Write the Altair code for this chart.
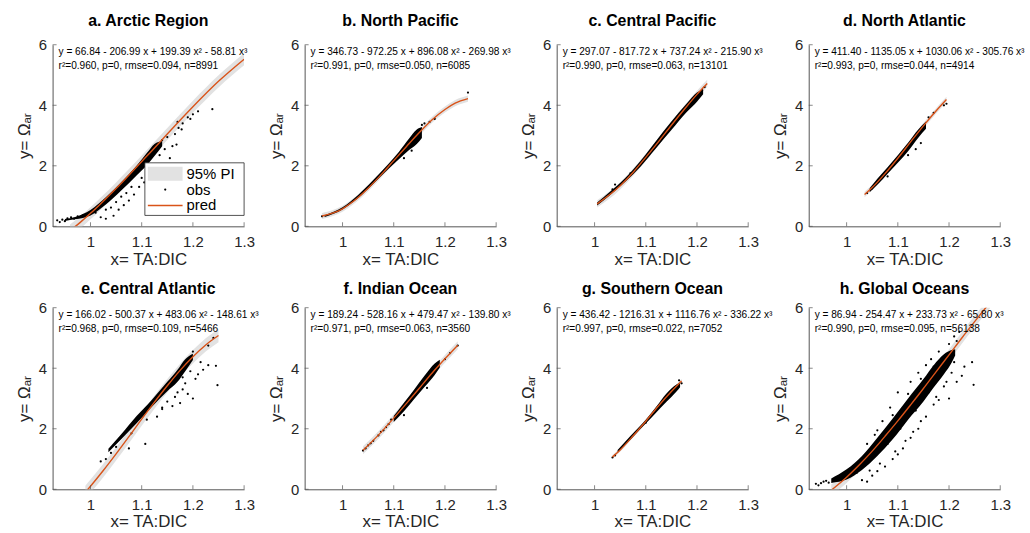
import altair as alt
import pandas as pd

# ---------------- data ----------------
TITLES = ["a. Arctic Region", "b. North Pacific", "c. Central Pacific", "d. North Atlantic",
          "e. Central Atlantic", "f. Indian Ocean", "g. Southern Ocean", "h. Global Oceans"]

EQUATIONS = [
    "y = 66.84 - 206.99 x + 199.39 x² - 58.81 x³",
    "y = 346.73 - 972.25 x + 896.08 x² - 269.98 x³",
    "y = 297.07 - 817.72 x + 737.24 x² - 215.90 x³",
    "y = 411.40 - 1135.05 x + 1030.06 x² - 305.76 x³",
    "y = 166.02 - 500.37 x + 483.06 x² - 148.61 x³",
    "y = 189.24 - 528.16 x + 479.47 x² - 139.80 x³",
    "y = 436.42 - 1216.31 x + 1116.76 x² - 336.22 x³",
    "y = 86.94 - 254.47 x + 233.73 x² - 65.80 x³",
]
STATS = [
    "r²=0.960, p=0, rmse=0.094, n=8991",
    "r²=0.991, p=0, rmse=0.050, n=6085",
    "r²=0.990, p=0, rmse=0.063, n=13101",
    "r²=0.993, p=0, rmse=0.044, n=4914",
    "r²=0.968, p=0, rmse=0.109, n=5466",
    "r²=0.971, p=0, rmse=0.063, n=3560",
    "r²=0.997, p=0, rmse=0.022, n=7052",
    "r²=0.990, p=0, rmse=0.095, n=56138",
]

X_TICKS = [1.0, 1.1, 1.2, 1.3]
Y_TICKS = [0, 2, 4, 6]
LEGEND_LABELS = ["95% PI", "obs", "pred"]

# prediction curves (pred)
PRED_X = [
    [0.96, 0.97, 0.98, 1.0, 1.02, 1.05, 1.07, 1.1, 1.12, 1.15, 1.2, 1.25, 1.3],
    [0.96, 1.0, 1.02, 1.05, 1.08, 1.1, 1.125, 1.15, 1.175, 1.2, 1.22, 1.245],
    [1.005, 1.05, 1.075, 1.1, 1.125, 1.15, 1.175, 1.2, 1.22],
    [1.035, 1.05, 1.075, 1.1, 1.125, 1.15, 1.175, 1.195],
    [0.99, 1.0, 1.025, 1.05, 1.075, 1.1, 1.125, 1.15, 1.175, 1.2, 1.225, 1.25],
    [1.04, 1.07, 1.1, 1.125, 1.15, 1.175, 1.2, 1.225],
    [1.035, 1.05, 1.075, 1.1, 1.125, 1.15, 1.17],
    [0.97, 1.0, 1.025, 1.05, 1.075, 1.1, 1.125, 1.15, 1.175, 1.2, 1.225, 1.25, 1.28],
]
PRED_Y = [
    [-0.14, -0.01, 0.13, 0.43, 0.75, 1.25, 1.60, 2.14, 2.50, 3.05, 3.95, 4.79, 5.52],
    [0.34, 0.58, 0.81, 1.26, 1.79, 2.17, 2.64, 3.10, 3.52, 3.86, 4.07, 4.22],
    [0.74, 1.34, 1.78, 2.28, 2.80, 3.34, 3.86, 4.36, 4.72],
    [1.05, 1.28, 1.74, 2.25, 2.79, 3.32, 3.82, 4.19],
    [-0.10, 0.10, 0.62, 1.17, 1.74, 2.32, 2.88, 3.42, 3.93, 4.38, 4.77, 5.08],
    [1.29, 1.79, 2.35, 2.84, 3.34, 3.84, 4.31, 4.76],
    [1.07, 1.30, 1.76, 2.25, 2.76, 3.23, 3.58],
    [-0.03, 0.40, 0.81, 1.26, 1.75, 2.26, 2.79, 3.33, 3.89, 4.44, 5.00, 5.54, 6.17],
]
# half width of the 95% prediction interval band
PI_HALF = [0.20, 0.10, 0.12, 0.09, 0.22, 0.13, 0.06, 0.19]

# dense part of the observation cloud (lower / upper edge)
CLOUD_X = [
    [0.95, 0.97, 1.0, 1.03, 1.06, 1.09, 1.11, 1.125, 1.14],
    [0.965, 1.0, 1.03, 1.06, 1.09, 1.11, 1.13, 1.145, 1.155],
    [1.005, 1.03, 1.06, 1.09, 1.12, 1.15, 1.18, 1.2, 1.212],
    [1.045, 1.06, 1.08, 1.1, 1.12, 1.14, 1.155],
    [1.035, 1.06, 1.09, 1.12, 1.15, 1.17, 1.185, 1.2],
    [1.1, 1.12, 1.14, 1.16, 1.18, 1.19],
    [1.045, 1.07, 1.1, 1.12, 1.14, 1.16, 1.167],
    [0.97, 1.0, 1.03, 1.06, 1.09, 1.12, 1.15, 1.17, 1.19, 1.205, 1.212],
]
CLOUD_LO = [
    [0.18, 0.23, 0.36, 0.72, 1.18, 1.68, 2.02, 2.32, 2.65],
    [0.31, 0.56, 0.93, 1.40, 1.90, 2.22, 2.52, 2.72, 2.92],
    [0.69, 1.03, 1.47, 1.98, 2.58, 3.18, 3.78, 4.12, 4.36],
    [1.13, 1.37, 1.74, 2.10, 2.48, 2.93, 3.22],
    [1.22, 1.65, 2.18, 2.73, 3.24, 3.55, 3.9, 4.27],
    [2.22, 2.58, 2.98, 3.38, 3.78, 4.02],
    [1.21, 1.64, 2.17, 2.53, 2.88, 3.23, 3.37],
    [0.21, 0.32, 0.64, 1.1, 1.65, 2.3, 2.9, 3.36, 3.8, 4.18, 4.42],
]
CLOUD_HI = [
    [0.24, 0.31, 0.54, 0.96, 1.46, 2.0, 2.42, 2.72, 2.82],
    [0.37, 0.63, 1.03, 1.53, 2.07, 2.46, 2.9, 3.2, 3.28],
    [0.79, 1.14, 1.6, 2.17, 2.82, 3.46, 4.06, 4.42, 4.53],
    [1.26, 1.57, 1.95, 2.35, 2.76, 3.2, 3.46],
    [1.34, 1.82, 2.42, 2.96, 3.55, 3.95, 4.3, 4.48],
    [2.42, 2.86, 3.3, 3.75, 4.16, 4.28],
    [1.3, 1.76, 2.3, 2.72, 3.16, 3.46, 3.53],
    [0.36, 0.66, 1.1, 1.7, 2.34, 3.0, 3.64, 4.1, 4.46, 4.6, 4.63],
]

# individual scattered observations (obs)
OBS_X = [
    [0.935, 0.94, 0.945, 0.95, 0.955, 0.962, 0.968, 0.975, 0.985, 1.02, 1.03, 1.045, 1.055, 1.065,
     1.075, 1.085, 1.095, 1.105, 1.12, 1.115, 1.125, 1.135, 1.145, 1.15, 1.155, 1.16, 1.165, 1.168,
     1.172, 1.178, 1.18, 1.19, 1.195, 1.2, 1.21, 1.238, 1.14, 1.13, 1.17,
     1.01, 1.04, 1.06, 1.08, 1.1, 1.12, 1.03, 1.05, 1.07],
    [0.96, 1.16, 1.17, 1.18, 1.245, 1.155, 1.12, 1.135],
    [1.035, 1.04, 1.21, 1.215, 1.07],
    [1.04, 1.05, 1.16, 1.17, 1.19, 1.195, 1.135, 1.12, 1.145, 1.08],
    [1.02, 1.03, 1.04, 1.075, 1.107, 1.13, 1.14, 1.15, 1.16, 1.165, 1.17, 1.175, 1.18, 1.185, 1.19,
     1.2, 1.205, 1.21, 1.215, 1.22, 1.23, 1.245, 1.248, 1.23, 1.24, 1.2, 1.195, 1.18,
     1.05, 1.08, 1.11, 1.14],
    [1.04, 1.045, 1.05, 1.055, 1.06, 1.07, 1.075, 1.08, 1.085, 1.09, 1.095, 1.12, 1.165, 1.2, 1.21, 1.225],
    [1.035, 1.04, 1.17, 1.165, 1.1],
    [0.94, 0.945, 0.95, 0.955, 0.96, 0.965, 0.975, 0.985, 1.03, 1.04, 1.05, 1.06, 1.075, 1.09, 1.1,
     1.11, 1.125, 1.14, 1.155, 1.17, 1.18, 1.2, 1.215, 1.225, 1.23, 1.245, 1.248, 1.21, 1.19, 1.2,
     1.21, 1.22, 1.215, 1.1, 1.085, 1.07, 1.055, 1.04, 1.125, 1.14, 1.155, 1.165, 1.18, 1.06, 1.08,
     1.105, 1.135, 1.15, 1.16,
     1.02, 1.035, 1.045, 1.065, 1.095, 1.115, 1.13, 1.145, 1.175, 1.195, 1.205, 1.06, 1.09, 1.12,
     1.145, 1.17, 1.19],
]
OBS_Y = [
    [0.20, 0.14, 0.22, 0.17, 0.26, 0.30, 0.25, 0.33, 0.36, 0.30, 0.25, 0.35, 0.55, 0.70,
     0.85, 1.05, 1.30, 1.45, 1.20, 1.75, 2.05, 2.35, 2.55, 2.95, 2.25, 2.65, 3.05, 2.70,
     3.25, 3.20, 3.40, 3.60, 3.55, 3.70, 3.80, 3.87, 2.85, 2.65, 3.45,
     0.45, 0.62, 0.98, 1.3, 1.6, 1.95, 0.55, 0.8, 1.1],
    [0.33, 3.40, 3.45, 3.55, 4.42, 3.35, 2.25, 2.50],
    [1.22, 1.38, 4.50, 4.60, 1.75],
    [1.10, 1.25, 3.60, 3.75, 4.00, 4.05, 2.55, 2.35, 2.75, 1.65],
    [0.92, 1.00, 1.20, 1.35, 1.50, 2.40, 2.65, 2.90, 2.75, 3.05, 3.20, 2.85, 3.30, 3.50, 3.15,
     3.00, 3.65, 3.80, 4.20, 3.95, 4.10, 4.08, 3.44, 4.75, 5.00, 4.55, 3.90, 3.70,
     1.4, 1.85, 2.3, 2.7],
    [1.28, 1.35, 1.45, 1.52, 1.60, 1.78, 1.90, 1.95, 2.05, 2.15, 2.30, 2.45, 3.35, 4.30, 4.50, 4.75],
    [1.05, 1.12, 3.50, 3.60, 2.20],
    [0.18, 0.13, 0.20, 0.25, 0.28, 0.22, 0.31, 0.30, 0.30, 0.25, 0.45, 0.60, 0.75, 1.00, 1.15,
     1.35, 1.70, 2.00, 2.40, 2.80, 2.95, 3.00, 3.55, 3.75, 4.05, 4.20, 3.45, 4.20, 3.40, 4.80,
     5.05, 5.20, 4.90, 3.20, 2.70, 2.25, 1.80, 1.50, 3.55, 3.85, 4.10, 4.30, 4.55, 1.20, 1.50,
     2.00, 2.60, 3.00, 3.20,
     0.55, 0.78, 0.62, 0.85, 1.25, 1.6, 1.9, 2.25, 3.05, 3.55, 3.85, 1.95, 2.45, 3.15,
     3.65, 4.05, 4.4],
]

# ---------------- styling ----------------
W, H = 193, 183
XDOM = [0.926, 1.3]
YDOM = [0, 6]
FONT = "Liberation Sans"
INK = "#262626"
RED = "#d95319"
BAND = "#e2e2e2"


def xenc(field, xs, xax):
    return alt.X(field, scale=xs, axis=xax)


def yenc(field, ys, yax):
    return alt.Y(field, scale=ys, axis=yax)


def make_panel(i):
    row = i // 4
    xs = alt.Scale(domain=XDOM, nice=False, zero=False)
    ys = alt.Scale(domain=YDOM, nice=False, zero=False)
    xax = alt.Axis(values=X_TICKS, format=".1~f", title="x= TA:DIC", grid=False, ticks=False,
                   tickSize=0, labelPadding=8, titlePadding=2, domainColor="#555555",
                   labelColor=INK, titleColor=INK, labelFontSize=15, titleFontSize=17,
                   titleFontWeight="normal", labelFont=FONT, titleFont=FONT, labelFlush=False)
    yax = alt.Axis(values=Y_TICKS, title="y= Ωₐᵣ", grid=False, ticks=False, tickSize=0,
                   labelPadding=6, titlePadding=5, domainColor="#555555",
                   labelColor=INK, titleColor=INK, labelFontSize=15, titleFontSize=17,
                   titleFontWeight="normal", labelFont=FONT, titleFont=FONT, labelFlush=False)

    pred = pd.DataFrame({"x": PRED_X[i], "y": PRED_Y[i]})
    pred["lo"] = pred["y"] - PI_HALF[i]
    pred["hi"] = pred["y"] + PI_HALF[i]
    cloud = pd.DataFrame({"x": CLOUD_X[i], "lo": CLOUD_LO[i], "hi": CLOUD_HI[i]})
    obs = pd.DataFrame({"x": OBS_X[i], "y": OBS_Y[i]})

    pi_layer = alt.Chart(pred).mark_area(color=BAND, clip=True, interpolate="monotone").encode(
        x=xenc("x:Q", xs, xax), y=yenc("lo:Q", ys, yax), y2="hi:Q")
    cloud_layer = alt.Chart(cloud).mark_area(color="black", clip=True, interpolate="monotone").encode(
        x=xenc("x:Q", xs, xax), y=yenc("lo:Q", ys, yax), y2="hi:Q")
    obs_layer = alt.Chart(obs).mark_circle(size=5, color="black", opacity=1, clip=True).encode(
        x=xenc("x:Q", xs, xax), y=yenc("y:Q", ys, yax))
    line_layer = alt.Chart(pred).mark_line(color=RED, strokeWidth=1.4, clip=True,
                                           interpolate="monotone").encode(
        x=xenc("x:Q", xs, xax), y=yenc("y:Q", ys, yax))

    xt = alt.Chart(pd.DataFrame({"v": X_TICKS})).mark_tick(
        orient="vertical", size=4, thickness=1, color="#555555").encode(
        x=xenc("v:Q", xs, xax), y=alt.value(H - 2))
    yt = alt.Chart(pd.DataFrame({"v": Y_TICKS})).mark_tick(
        orient="horizontal", size=4, thickness=1, color="#555555").encode(
        y=yenc("v:Q", ys, yax), x=alt.value(2))

    eq = alt.Chart(pd.DataFrame({"t": [EQUATIONS[i]]})).mark_text(
        align="left", baseline="middle", fontSize=10.2, font=FONT, color="black").encode(
        text="t:N", x=alt.value(6), y=alt.value(7))
    st = alt.Chart(pd.DataFrame({"t": [STATS[i]]})).mark_text(
        align="left", baseline="middle", fontSize=10.2, font=FONT, color="black").encode(
        text="t:N", x=alt.value(6), y=alt.value(21))

    layers = [pi_layer, cloud_layer, obs_layer, line_layer, xt, yt, eq, st]

    if i == 0:
        one = pd.DataFrame({"k": [0]})
        box = alt.Chart(one).mark_rect(fill="white", stroke=INK, strokeWidth=0.8).encode(
            x=alt.value(93), x2=alt.value(193), y=alt.value(119), y2=alt.value(172))
        sw = alt.Chart(one).mark_rect(fill=BAND).encode(
            x=alt.value(96), x2=alt.value(131), y=alt.value(123), y2=alt.value(137))
        dot = alt.Chart(one).mark_circle(size=5, color="black", opacity=1).encode(
            x=alt.value(113.5), y=alt.value(146))
        ln = alt.Chart(one).mark_rule(color=RED, strokeWidth=1.4).encode(
            x=alt.value(96), x2=alt.value(131), y=alt.value(162))
        layers += [box, sw, dot, ln]
        for k, yy in enumerate([130, 146, 162]):
            lab = alt.Chart(pd.DataFrame({"t": [LEGEND_LABELS[k]]})).mark_text(
                align="left", baseline="middle", fontSize=15, font=FONT, color="black").encode(
                text="t:N", x=alt.value(135), y=alt.value(yy))
            layers.append(lab)

    return alt.layer(*layers).properties(
        width=W, height=H,
        title=alt.TitleParams(TITLES[i], fontSize=16, fontWeight="bold", color="black",
                              font=FONT, anchor="middle", offset=9 if row == 0 else 4),
    )


panels = [make_panel(i) for i in range(8)]

chart = alt.concat(*panels, columns=4, spacing={"row": 82, "column": 61}, bounds="flush").properties(
    padding={"left": 15, "top": 11, "right": 5, "bottom": 5}
).configure(font=FONT).configure_view(stroke=None)

chart.save("out.html", embed_options={"renderer": "svg", "actions": False})
